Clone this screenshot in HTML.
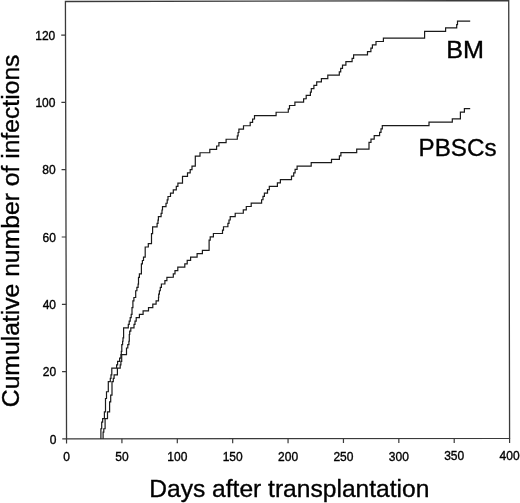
<!DOCTYPE html>
<html><head><meta charset="utf-8"><style>
html,body{margin:0;padding:0;background:#fff;}
svg{display:block;will-change:transform;}
text{font-family:"Liberation Sans", sans-serif;fill:#000;stroke:#000;stroke-width:0.35px;}
</style></head><body>
<svg width="520" height="503" viewBox="0 0 520 503">
<rect width="520" height="503" fill="#fff"/>
<path d="M65.42,1.48 L508.72,0.55 L509.59,438.38 L66.54,438.91 Z" fill="none" stroke="#3a3a3a" stroke-width="1.3"/>
<path d="M62.24,438.91 L66.54,438.91 M62.07,371.61 L66.37,371.61 M61.90,304.32 L66.20,304.32 M61.72,237.02 L66.02,237.02 M61.55,169.72 L65.85,169.72 M61.38,102.43 L65.68,102.43 M61.21,35.13 L65.51,35.13 M66.54,438.91 L66.54,443.41 M121.92,438.84 L121.92,443.34 M177.30,438.78 L177.30,443.28 M232.68,438.71 L232.68,443.21 M288.06,438.64 L288.06,443.14 M343.45,438.58 L343.45,443.08 M398.83,438.51 L398.83,443.01 M454.21,438.45 L454.21,442.95 M509.59,438.38 L509.59,442.88" fill="none" stroke="#3a3a3a" stroke-width="1.2"/>
<path d="M100.90,438.87 L100.90,438.87 L100.90,428.77 L101.70,428.77 L101.70,422.04 L102.65,422.04 L102.65,418.68 L104.40,418.68 L104.40,411.95 L105.50,411.94 L105.50,398.49 L106.50,398.48 L106.50,391.75 L108.30,391.75 L108.30,381.66 L110.30,381.66 L110.30,378.29 L111.00,378.29 L111.00,374.92 L111.80,374.92 L111.80,368.19 L116.60,368.19 L116.60,364.82 L117.60,364.82 L117.60,361.46 L119.60,361.45 L119.60,358.09 L120.90,358.09 L120.90,354.72 L121.30,354.72 L121.30,351.36 L121.80,351.36 L121.80,344.63 L122.60,344.63 L122.60,341.26 L123.00,341.26 L123.00,337.90 L123.60,337.90 L123.60,327.80 L128.30,327.80 L128.30,324.43 L129.20,324.43 L129.20,321.07 L130.20,321.06 L130.20,317.70 L131.20,317.70 L131.20,314.33 L132.00,314.33 L132.00,307.60 L132.90,307.60 L132.90,300.87 L133.90,300.87 L133.90,297.51 L135.70,297.50 L135.70,290.77 L136.90,290.77 L136.90,287.41 L138.10,287.41 L138.10,284.04 L138.50,284.04 L138.50,277.31 L139.40,277.31 L139.40,273.95 L141.40,273.94 L141.40,263.85 L142.40,263.85 L142.40,260.48 L143.50,260.48 L143.50,257.12 L145.20,257.11 L145.20,247.02 L148.30,247.02 L148.30,243.65 L151.50,243.65 L151.50,233.55 L152.60,233.55 L152.60,226.82 L157.10,226.82 L157.10,223.45 L158.00,223.45 L158.00,220.09 L158.40,220.08 L158.40,216.72 L161.10,216.72 L161.10,213.35 L162.00,213.35 L162.00,209.99 L162.50,209.99 L162.50,206.62 L166.00,206.62 L166.00,203.25 L167.20,203.25 L167.20,199.89 L168.00,199.88 L168.00,196.52 L170.50,196.52 L170.50,193.15 L173.30,193.15 L173.30,189.78 L176.30,189.78 L176.30,186.41 L177.90,186.41 L177.90,183.05 L182.50,183.04 L182.50,176.31 L187.50,176.31 L187.50,172.94 L190.20,172.94 L190.20,169.57 L192.00,169.57 L192.00,166.21 L195.30,166.20 L195.30,156.11 L200.00,156.10 L200.00,152.74 L209.80,152.73 L209.80,149.36 L216.60,149.35 L216.60,145.99 L218.90,145.99 L218.90,142.62 L226.10,142.61 L226.10,139.25 L237.30,139.23 L237.30,135.87 L238.10,135.87 L238.10,132.50 L238.90,132.50 L238.90,129.14 L243.50,129.13 L243.50,125.77 L250.20,125.76 L250.20,122.39 L252.60,122.39 L252.60,119.03 L254.50,119.02 L254.50,115.66 L276.10,115.63 L276.10,112.27 L288.30,112.25 L288.30,108.89 L289.50,108.89 L289.50,105.52 L294.90,105.52 L294.90,102.15 L303.60,102.14 L303.60,98.78 L306.20,98.77 L306.20,95.41 L310.40,95.40 L310.40,92.04 L311.30,92.04 L311.30,88.67 L313.90,88.67 L313.90,85.30 L316.70,85.30 L316.70,81.94 L321.40,81.93 L321.40,78.57 L327.80,78.56 L327.80,75.19 L339.30,75.18 L339.30,71.82 L340.70,71.81 L340.70,68.45 L342.50,68.45 L342.50,65.08 L345.90,65.08 L345.90,61.71 L352.10,61.71 L352.10,58.34 L353.60,58.34 L353.60,54.97 L367.50,54.96 L367.50,51.59 L370.90,51.59 L370.90,48.22 L372.40,48.22 L372.40,44.86 L376.00,44.85 L376.00,41.49 L383.40,41.48 L383.40,38.11 L424.60,38.06 L424.60,31.33 L445.60,31.31 L445.60,27.94 L456.70,27.93 L456.70,24.57 L457.50,24.57 L457.50,21.20 L470.20,21.19" fill="none" stroke="#1a1a1a" stroke-width="1.2"/>
<path d="M103.10,438.87 L103.10,438.87 L103.10,432.14 L103.80,432.14 L103.80,428.77 L105.10,428.77 L105.10,418.67 L107.50,418.67 L107.50,411.94 L109.60,411.94 L109.60,401.85 L110.70,401.84 L110.70,395.11 L112.00,395.11 L112.00,381.65 L113.30,381.65 L113.30,378.29 L114.10,378.29 L114.10,374.92 L117.40,374.92 L117.40,368.19 L120.20,368.18 L120.20,364.82 L120.90,364.82 L120.90,361.45 L121.70,361.45 L121.70,354.72 L126.50,354.72 L126.50,347.99 L127.80,347.99 L127.80,344.62 L128.90,344.62 L128.90,341.25 L129.30,341.25 L129.30,334.52 L129.70,334.52 L129.70,331.16 L130.80,331.16 L130.80,327.79 L134.00,327.79 L134.00,324.42 L135.00,324.42 L135.00,321.06 L136.20,321.06 L136.20,317.69 L139.40,317.69 L139.40,314.32 L143.10,314.32 L143.10,310.95 L148.50,310.95 L148.50,307.58 L152.80,307.58 L152.80,304.21 L156.10,304.21 L156.10,300.84 L158.50,300.84 L158.50,297.48 L158.70,297.48 L158.70,294.11 L159.40,294.11 L159.40,290.75 L160.30,290.74 L160.30,287.38 L161.40,287.38 L161.40,284.01 L164.90,284.01 L164.90,280.64 L166.90,280.64 L166.90,277.28 L173.30,277.27 L173.30,273.90 L175.00,273.90 L175.00,270.54 L177.80,270.53 L177.80,267.17 L184.80,267.16 L184.80,263.80 L187.20,263.79 L187.20,260.43 L190.60,260.42 L190.60,257.06 L197.10,257.05 L197.10,253.69 L202.40,253.68 L202.40,250.32 L209.10,250.31 L209.10,240.21 L210.20,240.21 L210.20,236.85 L213.40,236.84 L213.40,233.48 L222.50,233.47 L222.50,230.10 L223.50,230.10 L223.50,226.74 L227.90,226.73 L227.90,223.37 L229.00,223.37 L229.00,220.00 L230.20,220.00 L230.20,216.63 L235.20,216.63 L235.20,213.26 L243.30,213.25 L243.30,209.89 L246.30,209.89 L246.30,206.52 L251.20,206.51 L251.20,203.15 L261.60,203.14 L261.60,199.77 L263.00,199.77 L263.00,196.41 L264.40,196.40 L264.40,193.04 L267.50,193.04 L267.50,189.67 L269.30,189.67 L269.30,186.30 L277.40,186.29 L277.40,182.93 L280.40,182.93 L280.40,179.56 L291.50,179.55 L291.50,176.18 L293.70,176.18 L293.70,172.82 L295.10,172.81 L295.10,169.45 L297.10,169.45 L297.10,166.08 L311.20,166.06 L311.20,162.70 L331.50,162.68 L331.50,159.31 L339.40,159.30 L339.40,155.94 L340.90,155.93 L340.90,152.57 L356.70,152.55 L356.70,149.19 L369.00,149.17 L369.00,142.44 L371.00,142.44 L371.00,139.07 L374.20,139.07 L374.20,135.71 L379.60,135.70 L379.60,132.33 L381.00,132.33 L381.00,128.97 L382.30,128.97 L382.30,125.60 L429.00,125.55 L429.00,122.18 L452.30,122.15 L452.30,118.79 L460.40,118.78 L460.40,112.05 L464.40,112.04 L464.40,108.68 L470.20,108.67" fill="none" stroke="#1a1a1a" stroke-width="1.2"/>
<g font-size="12">
<text x="56.34" y="443.61" text-anchor="end">0</text>
<text x="56.17" y="376.31" text-anchor="end">20</text>
<text x="56.00" y="309.02" text-anchor="end">40</text>
<text x="55.82" y="241.72" text-anchor="end">60</text>
<text x="55.65" y="174.42" text-anchor="end">80</text>
<text x="55.48" y="107.13" text-anchor="end">100</text>
<text x="55.31" y="39.83" text-anchor="end">120</text>
<text x="66.54" y="460.91" text-anchor="middle">0</text>
<text x="121.92" y="460.84" text-anchor="middle">50</text>
<text x="177.30" y="460.78" text-anchor="middle">100</text>
<text x="232.68" y="460.71" text-anchor="middle">150</text>
<text x="288.06" y="460.64" text-anchor="middle">200</text>
<text x="343.45" y="460.58" text-anchor="middle">250</text>
<text x="398.83" y="460.51" text-anchor="middle">300</text>
<text x="454.21" y="460.45" text-anchor="middle">350</text>
<text x="509.59" y="460.38" text-anchor="middle">400</text>
</g>
<text x="149.2" y="497.1" font-size="24.6">Days after transplantation</text>
<text transform="translate(18.9,407.2) rotate(-90)" font-size="24.7">Cumulative number of infections</text>
<text transform="translate(446.2,58.0) scale(1,0.955)" font-size="25.2">BM</text>
<text transform="translate(418.6,156.4) scale(1,0.975)" font-size="24.2">PBSCs</text>
</svg>
</body></html>
